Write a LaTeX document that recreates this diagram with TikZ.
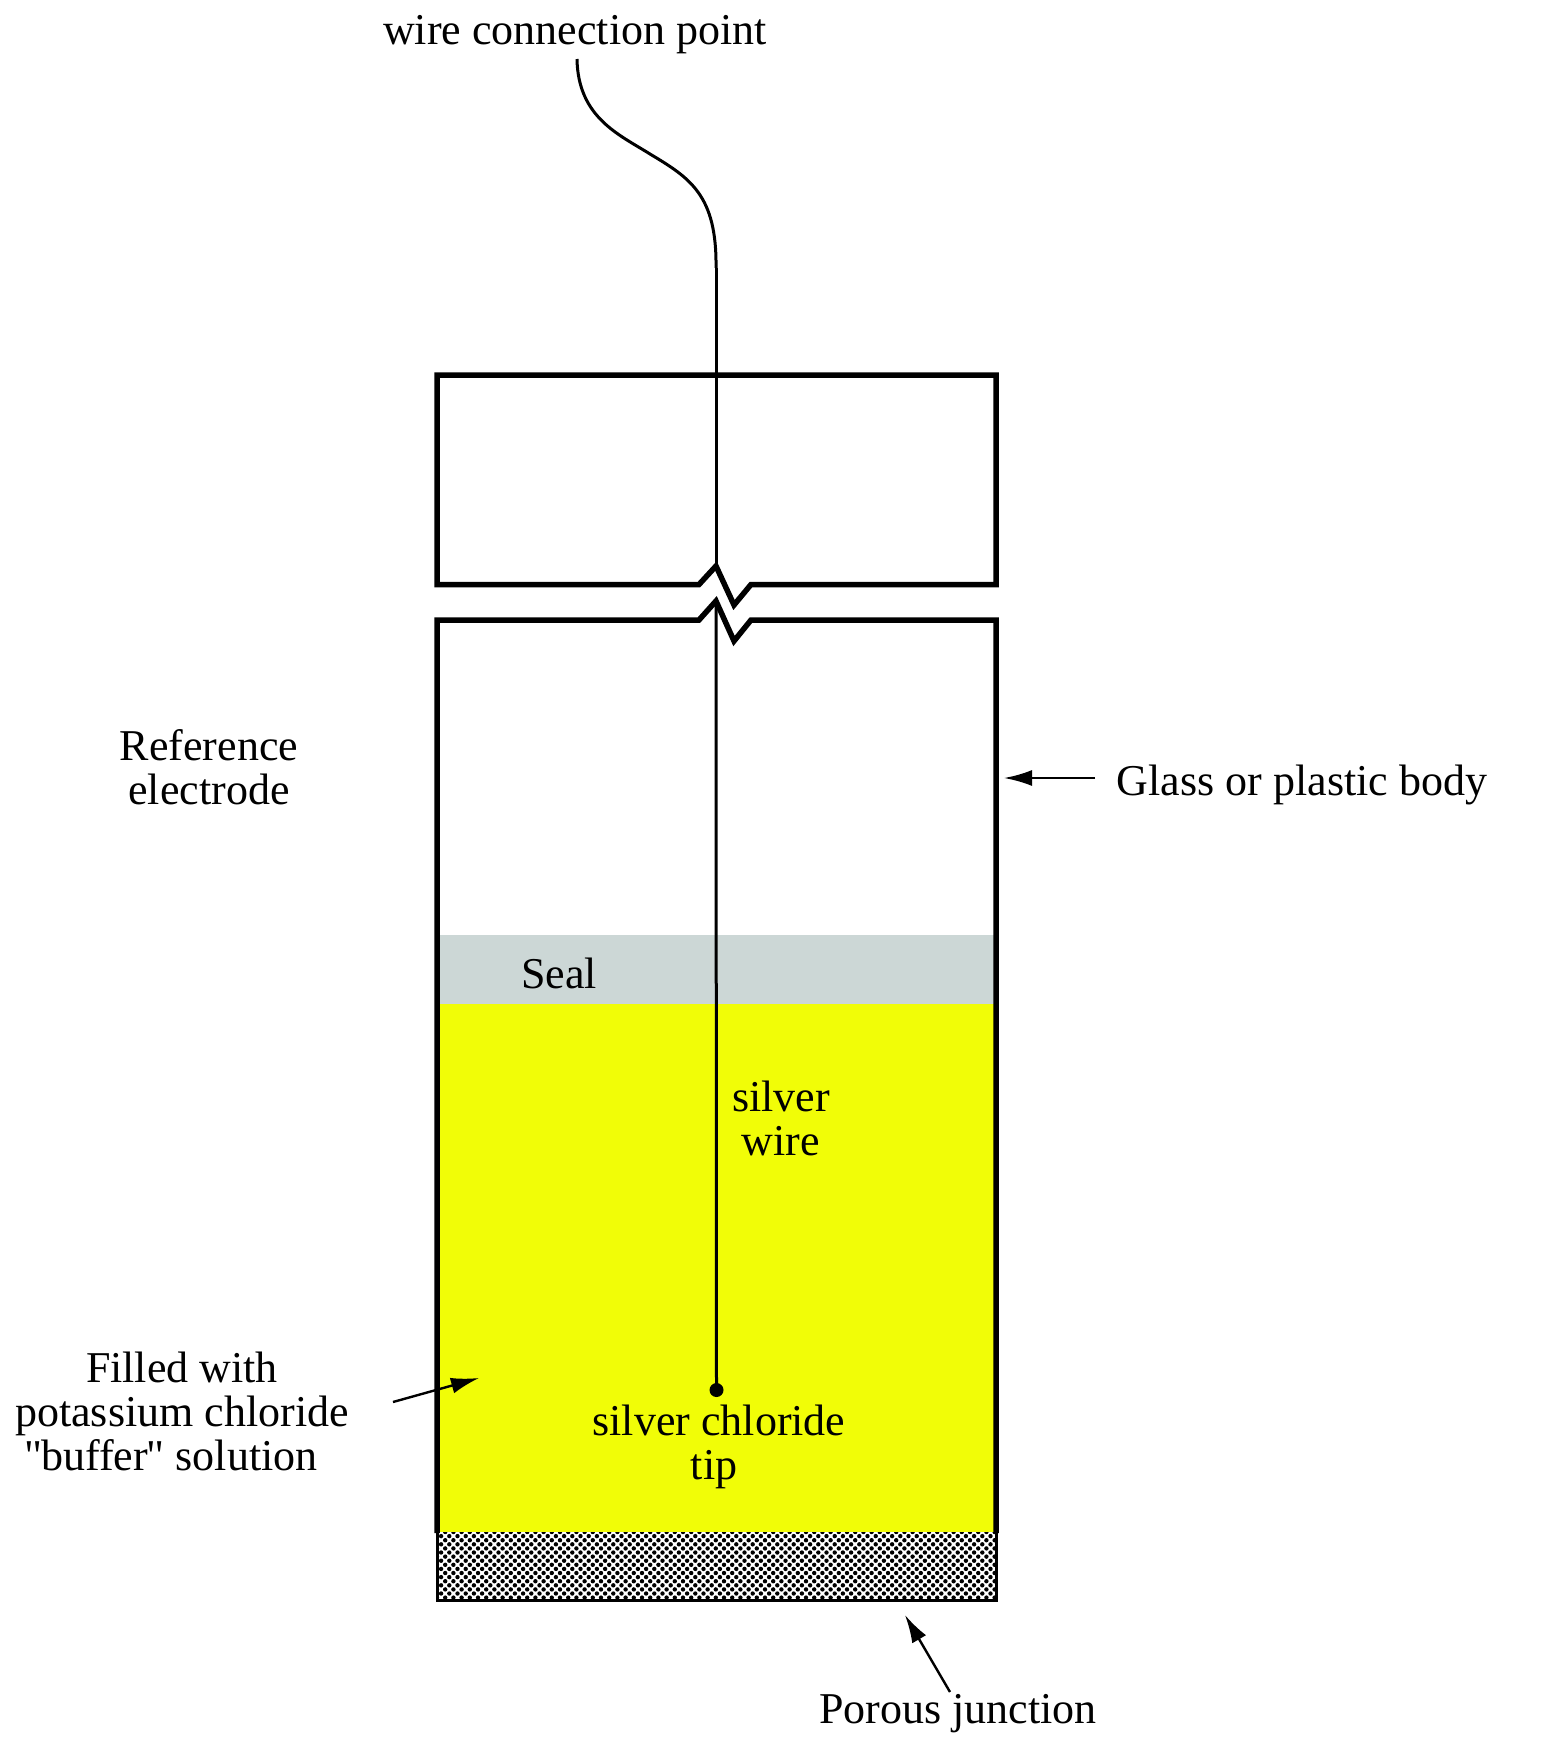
\documentclass[tikz,border=0pt]{standalone}
\usepackage{fontspec}
\newfontfamily\rawserif{Liberation Serif}
\usetikzlibrary{arrows.meta}
\definecolor{fillyellow}{HTML}{F1FD07}
\definecolor{sealgrey}{HTML}{CCD7D6}
\tikzset{
  wall/.style={line width=5.5pt,line join=miter},
  wirepath/.style={line width=3pt},
  lbl/.style={inner sep=0pt,align=center,font=\rawserif\fontsize{44}{44}\selectfont},
  pointer/.style={line width=2.4pt,-{Latex[length=28pt,width=16pt]}},
}
\begin{document}
\begin{tikzpicture}[x=1pt,y=-1pt]
\useasboundingbox (0,0) rectangle (1542,1746);
% fills
\fill[sealgrey] (437,935) rectangle (996,1004);
\fill[fillyellow] (437,1004) rectangle (996,1532);
% porous junction
\begin{scope}
\clip (437,1532) rectangle (996,1600);
\fill[white] (437,1532) rectangle (996,1600);
\foreach \i in {0,...,68}{
  \foreach \j in {0,...,8}{
    \fill[black] ({437+\i*8.2},{1532+\j*8.2}) circle (2.2pt);
    \fill[black] ({441.1+\i*8.2},{1536.1+\j*8.2}) circle (2.2pt);
  }
}
\end{scope}
\draw[line width=3pt] (437,1532) -- (437,1600) -- (996,1600) -- (996,1532);
% body
\draw[wall] (437,584.5) -- (437,375) -- (996,375) -- (996,584.5) -- (751,584.5) -- (734,605) -- (716,566) -- (699,584.5) -- cycle;
\draw[wall] (437,1533) -- (437,620) -- (699,620) -- (716,601) -- (734,641) -- (751,620) -- (996,620) -- (996,1533);
% wire
\coordinate (wiretop) at (577,59);
\coordinate (wirebend) at (716,268);
\node[fill=black,circle,inner sep=0pt,minimum size=14pt] (tip) at (716.5,1390) {};
\draw[wirepath] (wiretop) .. controls (578,118) and (620,135) .. (650,154) .. controls (690,178) and (717,195) .. (wirebend);
\draw[wirepath] (wirebend) -- (716,568);
\draw[wirepath] (716,602) -- (tip.center);
% labels
\node[lbl] (conn) at (575,35) {wire connection point};
\node[lbl] (refel) at (209,767) {Reference\\electrode};
\node[lbl] (body) at (1302,785) {Glass or plastic body};
\node[lbl] (seal) at (559,973) {Seal};
\node[lbl] (silver) at (781,1118) {silver\\wire};
\node[lbl] (tiplab) at (719,1447) {silver chloride\\tip\kern 10pt};
\node[lbl] (filled) at (182,1411) {Filled with\\potassium chloride\\"\kern-1pt buffer\kern-1pt" solution\kern 22pt};
\node[lbl] (porous) at (958,1714) {Porous junction};
% pointers
\coordinate (bodytail) at (1095,778);
\coordinate (bodyhead) at (1004,778);
\draw[pointer] (bodytail) -- (bodyhead);
\coordinate (filltail) at (393,1402);
\coordinate (fillhead) at (479,1378);
\draw[pointer] (filltail) -- (fillhead);
\coordinate (portail) at (950,1692);
\coordinate (porhead) at (905,1615);
\draw[pointer] (portail) -- (porhead);
\end{tikzpicture}
\end{document}
